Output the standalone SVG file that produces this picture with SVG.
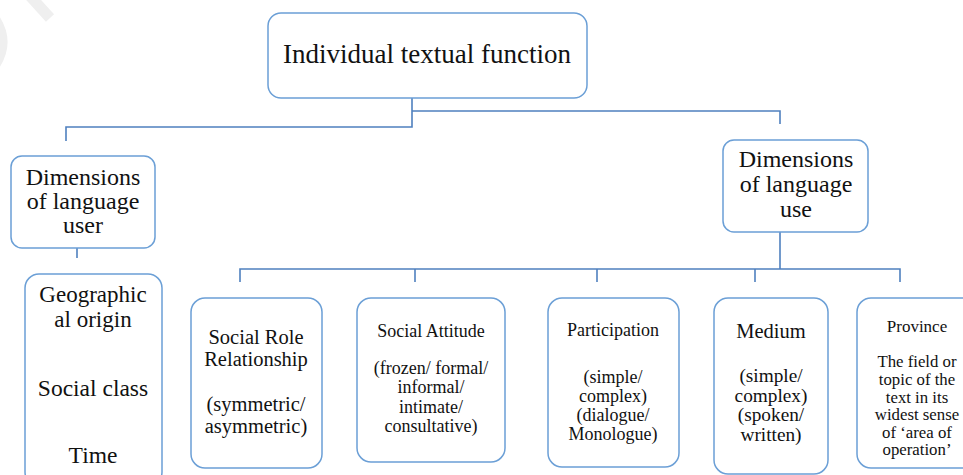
<svg xmlns="http://www.w3.org/2000/svg" width="963" height="475" viewBox="0 0 963 475">
  <style>
    .box { fill: #ffffff; stroke: #6b9fd6; stroke-width: 1.5; }
    .link { fill: none; stroke: #4f80bf; stroke-width: 1.6; }
    .wm { fill: none; stroke: #efefef; stroke-width: 11; }
  </style>
  <rect width="963" height="475" fill="#ffffff"/>

  <!-- faint background mark -->
  <g id="watermark">
    <path class="wm" d="M-6,18 Q10,42 -6,66"/>
    <path class="wm" d="M30,-4 L50,18"/>
  </g>

  <g id="connectors">
    <path class="link" d="M412,98 V127 H66 V141"/>
    <path class="link" d="M412,111 H780 V124"/>
    <path class="link" d="M77,248 V258"/>
    <path class="link" d="M780,232 V269"/>
    <path class="link" d="M240,282 V269 H900 V282"/>
    <path class="link" d="M415,269 V282"/>
    <path class="link" d="M597,269 V282"/>
    <path class="link" d="M755,269 V282"/>
  </g>

  <g id="nodes" font-family="Liberation Serif, Times New Roman, serif" fill="#111111" text-anchor="middle">
  <g id="individual-textual-function">
    <rect class="box" x="268" y="13" width="319" height="85" rx="13"/>
    <text x="427" y="63" font-size="27">Individual textual function</text>
  </g>

  <g id="dimensions-user">
    <rect class="box" x="11" y="156" width="144" height="92" rx="11"/>
    <text x="83" y="185" font-size="24">Dimensions</text>
    <text x="83" y="209" font-size="24">of language</text>
    <text x="83" y="233" font-size="24">user</text>
  </g>

  <g id="dimensions-use">
    <rect class="box" x="723" y="140" width="145" height="92" rx="11"/>
    <text x="796" y="167" font-size="24">Dimensions</text>
    <text x="796" y="192" font-size="24">of language</text>
    <text x="796" y="217" font-size="24">use</text>
  </g>

  <g id="user-factors">
    <rect class="box" x="25" y="274" width="137" height="212" rx="14"/>
    <text x="93" y="302" font-size="23">Geographic</text>
    <text x="93" y="327" font-size="23">al origin</text>
    <text x="93" y="396" font-size="23.5">Social class</text>
    <text x="93" y="463" font-size="23.5">Time</text>
  </g>

  <g id="social-role">
    <rect class="box" x="191" y="298" width="131" height="170" rx="14"/>
    <text x="256" y="344" font-size="20.5">Social  Role</text>
    <text x="256" y="366" font-size="20.5">Relationship</text>
    <text x="256" y="411" font-size="20.5">(symmetric/</text>
    <text x="256" y="433" font-size="20.5">asymmetric)</text>
  </g>

  <g id="social-attitude">
    <rect class="box" x="357" y="298" width="148" height="164" rx="14"/>
    <text x="431" y="337" font-size="18">Social  Attitude</text>
    <text x="431" y="374" font-size="18">(frozen/  formal/</text>
    <text x="431" y="393" font-size="18">informal/</text>
    <text x="431" y="413" font-size="18">intimate/</text>
    <text x="431" y="432" font-size="18">consultative)</text>
  </g>

  <g id="participation">
    <rect class="box" x="548" y="298" width="131" height="169" rx="14"/>
    <text x="613" y="336" font-size="18">Participation</text>
    <text x="613" y="383" font-size="18">(simple/</text>
    <text x="613" y="402" font-size="18">complex)</text>
    <text x="613" y="421" font-size="18">(dialogue/</text>
    <text x="613" y="440" font-size="18">Monologue)</text>
  </g>

  <g id="medium">
    <rect class="box" x="714" y="298" width="114" height="176" rx="14"/>
    <text x="771" y="338" font-size="20.5">Medium</text>
    <text x="771" y="382" font-size="19.3">(simple/</text>
    <text x="771" y="401.5" font-size="19.3">complex)</text>
    <text x="771" y="421" font-size="19.3">(spoken/</text>
    <text x="771" y="440.5" font-size="19.3">written)</text>
  </g>

  <g id="province">
    <rect class="box" x="857" y="298" width="120" height="170" rx="14"/>
    <text x="917" y="332" font-size="17">Province</text>
    <text x="917" y="367" font-size="16.8">The field or</text>
    <text x="917" y="385" font-size="16.8">topic of the</text>
    <text x="917" y="402.5" font-size="16.8">text in its</text>
    <text x="917" y="420" font-size="16.8">widest sense</text>
    <text x="917" y="437.5" font-size="16.8">of ‘area of</text>
    <text x="917" y="455" font-size="16.8">operation’</text>
  </g>
  </g>
</svg>
